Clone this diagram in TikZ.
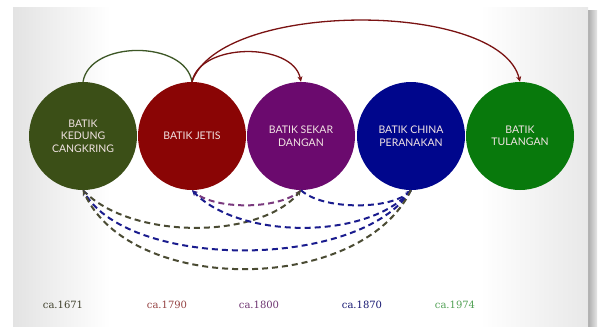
\documentclass[tikz,border=0pt]{standalone}
\usepackage{fontspec}
\setmainfont{DejaVu Serif}
\newfontfamily\circfont{Lato}
\usetikzlibrary{arrows.meta}
\definecolor{cOne}{HTML}{3B4F17}
\definecolor{cTwo}{HTML}{8A0505}
\definecolor{cThree}{HTML}{6B0A6E}
\definecolor{cFour}{HTML}{00068C}
\definecolor{cFive}{HTML}{08790C}
\definecolor{olv}{HTML}{4A4B33}
\definecolor{blu}{HTML}{1A1C8E}
\definecolor{prp}{HTML}{7A3A7E}
\definecolor{redarc}{HTML}{7A1212}
\definecolor{grnarc}{HTML}{3D5726}
\definecolor{txtc}{HTML}{F2E4E4}
\tikzset{
  era/.style={circle, minimum size=108pt, inner sep=0pt, text=txtc,
    font=\circfont\fontsize{10.5}{12.5}\selectfont, align=center},
  datelbl/.style={font=\fontsize{10}{12}\selectfont},
  toparc/.style={line width=1.3pt},
  dasharc/.style={line width=2pt, dash pattern=on 6pt off 4pt,
    -{Stealth[length=5.5pt,width=5pt]}},
  tip/.style={-{Stealth[length=5.5pt,width=5pt]}}
}
\begin{document}
\begin{tikzpicture}[x=1pt,y=-1pt]
\useasboundingbox (0,0) rectangle (598,327);
\fill[white] (0,0) rectangle (598,327);
% shadow on the right
\shade[left color=gray!75, right color=gray!20] (586,10) rectangle (597,327);
% card
\fill[white] (13,7) rectangle (588,327);
\shade[left color=gray!22, right color=white] (13,7) rectangle (110,327);
\shade[left color=white, right color=gray!18] (480,7) rectangle (588,327);

% circles
\node[era, fill=cOne]   (c1) at (83,136)  {BATIK\\KEDUNG\\CANGKRING};
\node[era, fill=cTwo]   (c2) at (192,136) {BATIK JETIS};
\node[era, fill=cThree] (c3) at (301,136) {BATIK SEKAR\\DANGAN};
\node[era, fill=cFour]  (c4) at (411,136) {BATIK CHINA\\PERANAKAN};
\node[era, fill=cFive]  (c5) at (520,136) {BATIK\\TULANGAN};

% top arcs
\draw[toparc, grnarc] (c1.north) .. controls (90,40) and (185,40) .. (c2.north);
\draw[toparc, redarc, tip] (c2.north) .. controls (200,42) and (293,42) .. (c3.north);
\draw[toparc, redarc, tip] (c2.north) .. controls (220,0) and (500,0) .. (c5.north);

% dashed arcs
\draw[dasharc, prp] (c3.south) .. controls (280,210) and (215,210) .. (c2.south);
\draw[dasharc, blu] (c3.south) .. controls (322,210) and (390,210) .. (c4.south);
\draw[dasharc, olv] (c1.south) .. controls (130,240) and (260,240) .. (c3.south);
\draw[dasharc, blu] (c4.south) .. controls (370,240) and (240,240) .. (c2.south);
\draw[dasharc, blu] (c4.south) .. controls (360,270) and (130,270) .. (c1.south);
\draw[dasharc, olv] (c4.south) .. controls (360,295) and (130,295) .. (c1.south);

% dates
\node[datelbl, text=olv!85!black] (d1) at (63,305)  {ca.1671};
\node[datelbl, text=redarc!80]    (d2) at (167,305) {ca.1790};
\node[datelbl, text=prp!90!black] (d3) at (259,305) {ca.1800};
\node[datelbl, text=blu!80!black] (d4) at (362,305) {ca.1870};
\node[datelbl, text=cFive!70]     (d5) at (455,305) {ca.1974};
\end{tikzpicture}
\end{document}
